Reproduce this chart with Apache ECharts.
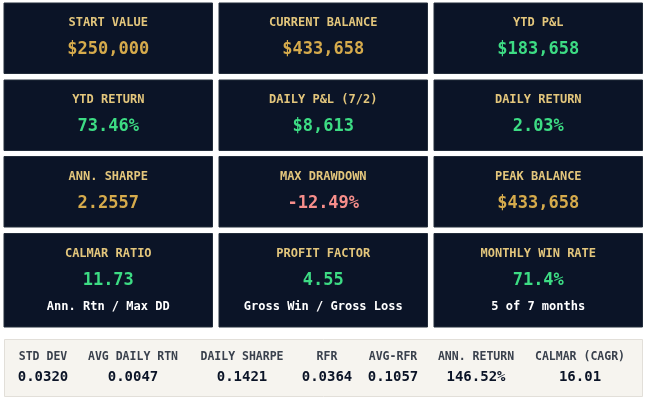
<!DOCTYPE html>
<html>
<head>
<meta charset="utf-8">
<script src="https://cdn.jsdelivr.net/npm/echarts@6/dist/echarts.min.js"></script>
<style>
html, body { margin: 0; padding: 0; background: #ffffff; }
#dash { width: 645px; height: 400px; }
</style>
</head>
<body>
<div id="dash"></div>
<script>
// card data (row by row, 3 per row)
var cardTitles = ['START VALUE', 'CURRENT BALANCE', 'YTD P&L',
	'YTD RETURN', 'DAILY P&L (7/2)', 'DAILY RETURN',
	'ANN. SHARPE', 'MAX DRAWDOWN', 'PEAK BALANCE',
	'CALMAR RATIO', 'PROFIT FACTOR', 'MONTHLY WIN RATE'];
var cardValues = ['$250,000', '$433,658', '$183,658',
	'73.46%', '$8,613', '2.03%',
	'2.2557', '-12.49%', '$433,658',
	'11.73', '4.55', '71.4%'];
var cardTones = ['gold', 'gold', 'green',
	'green', 'green', 'green',
	'gold', 'red', 'gold',
	'green', 'green', 'green'];
var cardNotes = ['', '', '', '', '', '', '', '', '',
	'Ann. Rtn / Max DD', 'Gross Win / Gross Loss', '5 of 7 months'];

// bottom strip
var statLabels = ['STD DEV', 'AVG DAILY RTN', 'DAILY SHARPE', 'RFR', 'AVG-RFR', 'ANN. RETURN', 'CALMAR (CAGR)'];
var statValues = ['0.0320', '0.0047', '0.1421', '0.0364', '0.1057', '146.52%', '16.01'];
var statCenters = [43, 133, 242, 327, 393, 476, 580];

var toneColor = { gold: '#d6ab4c', green: '#3ddc84', red: '#f78e8b' };
var font = '"DejaVu Sans Mono", "Liberation Mono", monospace';

var colX = [4, 219, 434];
var cardW = 208.5;
var rowY = [3, 80, 156.5, 233.5];
var rowH = [70.5, 70.5, 70.5, 93.5];

var elements = [];
cardTitles.forEach(function (t, i) {
	var r = Math.floor(i / 3), c = i % 3;
	var x = colX[c], y = rowY[r];
	elements.push({
		type: 'rect',
		shape: { x: x, y: y, width: cardW, height: rowH[r] },
		style: { fill: '#0b1427', stroke: '#222c3a', lineWidth: 1 }
	});
	elements.push({
		type: 'text', x: x + cardW / 2, y: y + 20,
		style: { text: t, fill: '#e3c67c', font: 'bold 12px ' + font, align: 'center', verticalAlign: 'middle' }
	});
	elements.push({
		type: 'text', x: x + cardW / 2, y: y + 47,
		style: { text: cardValues[i], fill: toneColor[cardTones[i]], font: 'bold 17px ' + font, align: 'center', verticalAlign: 'middle' }
	});
	if (cardNotes[i]) {
		elements.push({
			type: 'text', x: x + cardW / 2, y: y + 73.5,
			style: { text: cardNotes[i], fill: '#ffffff', font: 'bold 12px ' + font, align: 'center', verticalAlign: 'middle' }
		});
	}
});

elements.push({
	type: 'rect',
	shape: { x: 4.5, y: 339.5, width: 638, height: 57 },
	style: { fill: '#f6f4ef', stroke: '#e2dfd9', lineWidth: 1 }
});
statLabels.forEach(function (l, i) {
	elements.push({
		type: 'text', x: statCenters[i], y: 357,
		style: { text: l, fill: '#3a414d', font: 'bold 11.5px ' + font, align: 'center', verticalAlign: 'middle' }
	});
	elements.push({
		type: 'text', x: statCenters[i], y: 377.5,
		style: { text: statValues[i], fill: '#0b1427', font: 'bold 14px ' + font, align: 'center', verticalAlign: 'middle' }
	});
});

var myChart = echarts.init(document.getElementById('dash'));
option = {
	backgroundColor: '#ffffff',
	animation: false,
	graphic: { elements: elements }
};
myChart.setOption(option);
</script>
</body>
</html>
